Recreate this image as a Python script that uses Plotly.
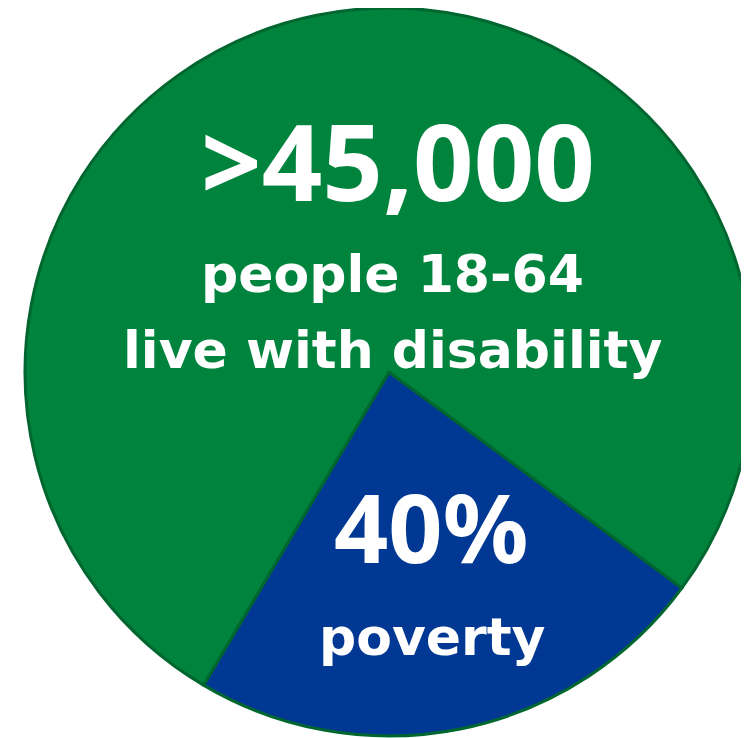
import plotly.graph_objects as go

# Data (slice shares)
slice_labels = ["40% poverty", "other"]
slice_values = [23.4, 76.6]
slice_colors = ["#003893", "#00843D"]

headline_value = ">45,000"
headline_lines = ["people 18-64", "live with disability"]
poverty_value = "40%"
poverty_label = "poverty"

W, H = 749, 738

fig = go.Figure(
    go.Pie(
        labels=slice_labels,
        values=slice_values,
        sort=False,
        direction="clockwise",
        rotation=126.4,
        marker=dict(colors=slice_colors, line=dict(color="#00662F", width=3)),
        textinfo="none",
        hoverinfo="label+percent",
        showlegend=False,
        domain=dict(x=[0.0227, 0.9947], y=[0.0136, 1.0]),
    )
)

white = "#FFFFFF"
annos = [
    dict(text=headline_value, x=0.5207, y=0.7940,
         font=dict(family="Noto Sans", size=106, color=white, weight="bold")),
    dict(text=headline_lines[0], x=0.5140, y=0.6396,
         font=dict(family="DejaVu Sans", size=52, color=white, weight="bold")),
    dict(text=headline_lines[1], x=0.5127, y=0.5366,
         font=dict(family="DejaVu Sans", size=52, color=white, weight="bold")),
    dict(text=poverty_value, x=0.5648, y=0.2980,
         font=dict(family="Noto Sans", size=95, color=white, weight="bold")),
    dict(text=poverty_label, x=0.5661, y=0.1477,
         font=dict(family="DejaVu Sans", size=52, color=white, weight="bold")),
]
for a in annos:
    fig.add_annotation(xref="paper", yref="paper", xanchor="center", yanchor="middle",
                       showarrow=False, **a)

fig.update_layout(
    width=W, height=H,
    margin=dict(l=0, r=0, t=0, b=0),
    paper_bgcolor="white",
    plot_bgcolor="white",
)

fig.write_html("out.html")
